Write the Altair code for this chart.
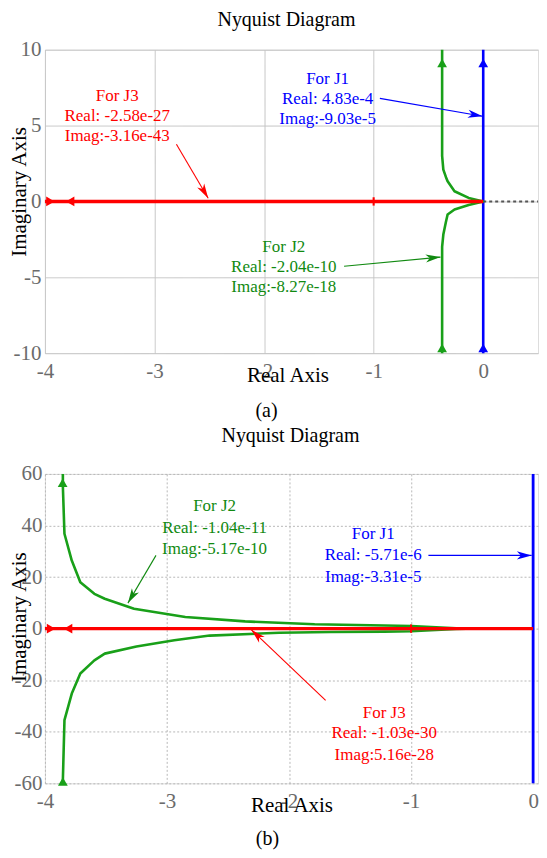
import math
import altair as alt
import pandas as pd

FONT = "Liberation Serif"
RED = "#ff0000"
GREEN = "#19a019"
BLUE = "#0000ff"
TEXT_GREEN = "#118a11"
PALETTE = {"J1": BLUE, "J2": GREEN, "J3": RED}
TEXT_PALETTE = {"J1": BLUE, "J2": TEXT_GREEN, "J3": RED}
ARROW_PATH = "M0,0L0.55,2L0,1.45L-0.55,2Z"

# ---------------- panel (a) data ----------------
A_X_DOMAIN = [-4, 0.5]
A_Y_DOMAIN = [-10, 10]
A_X_TICKS = [-4, -3, -2, -1, 0]
A_Y_TICKS = [-10, -5, 0, 5, 10]

a_j1_re = [0.0, 0.0]
a_j1_im = [-10.5, 10.5]

a_j2_re = [-0.375, -0.375, -0.364, -0.34, -0.325, -0.262, -0.133, 0.0,
           -0.133, -0.262, -0.325, -0.342, -0.364, -0.375, -0.375]
a_j2_im = [10.5, 3.0, 2.1, 1.6, 1.33, 0.67, 0.23, 0.0,
           -0.23, -0.53, -0.86, -1.41, -2.18, -3.0, -10.5]

a_j3_re = [-4.05, -1.0, 0.0]
a_j3_im = [0.0, 0.0, 0.0]

a_pos_re = [0.0, 0.5]
a_pos_im = [0.0, 0.0]

a_dir_re = [-0.375, -0.375, 0.0, 0.0, -3.95, -3.77]
a_dir_im = [9.13, -9.66, 9.13, -9.66, 0.0, 0.0]
a_dir_shape = ["triangle-up", "triangle-up", "triangle-up", "triangle-up",
               "triangle-right", "triangle-left"]
a_dir_series = ["J2", "J2", "J1", "J1", "J3", "J3"]

a_note_text = ["For J3", "Real: -2.58e-27", "Imag:-3.16e-43",
               "For J1", "Real: 4.83e-4", "Imag:-9.03e-5",
               "For J2", "Real: -2.04e-10", "Imag:-8.27e-18"]
a_note_re = [-3.34, -3.34, -3.34, -1.42, -1.42, -1.42, -1.82, -1.82, -1.82]
a_note_im = [6.93, 5.61, 4.29, 8.04, 6.73, 5.41, -3.02, -4.33, -5.65]
a_note_series = ["J3"] * 3 + ["J1"] * 3 + ["J2"] * 3

a_arrow_series = ["J3", "J1", "J2"]
a_arrow_from_re = [-2.80, -0.943, -1.27]
a_arrow_from_im = [3.77, 6.79, -4.27]
a_arrow_to_re = [-2.51, -0.005, -0.39]
a_arrow_to_im = [0.21, 5.61, -3.67]

# ---------------- panel (b) data ----------------
B_X_DOMAIN = [-4, 0.04]
B_Y_DOMAIN = [-60, 60]
B_X_TICKS = [-4, -3, -2, -1, 0]
B_Y_TICKS = [-60, -40, -20, 0, 20, 40, 60]

b_j1_re = [0.0, 0.0]
b_j1_im = [-63.0, 63.0]

b_j2_re = [-3.853, -3.853, -3.84, -3.78, -3.71, -3.595, -3.51, -3.27, -2.85,
           -2.36, -1.79, -1.22, -1.0, -0.63, -0.55,
           -0.63, -1.0, -1.22, -1.66, -2.08, -2.65, -2.94, -3.25, -3.51,
           -3.595, -3.71, -3.78, -3.84, -3.853, -3.853]
b_j2_im = [63.0, 55.0, 36.8, 26.4, 18.0, 13.5, 11.6, 7.7, 4.5,
           2.8, 1.7, 1.2, 1.0, 0.15, 0.0,
           -0.15, -1.0, -1.15, -1.3, -1.6, -2.7, -4.5, -6.9, -9.7,
           -12.3, -17.4, -25.2, -35.5, -58.7, -63.0]

b_j3_re = [-4.05, -1.0, 0.0]
b_j3_im = [0.0, 0.0, 0.0]

b_dir_re = [-3.855, -3.853, -3.95, -3.81]
b_dir_im = [56.6, -59.3, 0.0, 0.0]
b_dir_shape = ["triangle-up", "triangle-up", "triangle-right", "triangle-left"]
b_dir_series = ["J2", "J2", "J3", "J3"]

b_note_text = ["For J2", "Real: -1.04e-11", "Imag:-5.17e-10",
               "For J1", "Real: -5.71e-6", "Imag:-3.31e-5",
               "For J3", "Real: -1.03e-30", "Imag:5.16e-28"]
b_note_re = [-2.61, -2.61, -2.61, -1.31, -1.31, -1.31, -1.22, -1.22, -1.22]
b_note_im = [47.7, 39.2, 30.7, 36.8, 28.4, 20.0, -32.9, -40.6, -49.0]
b_note_series = ["J2"] * 3 + ["J1"] * 3 + ["J3"] * 3

b_arrow_series = ["J2", "J1", "J3"]
b_arrow_from_re = [-3.09, -0.858, -1.70]
b_arrow_from_im = [28.4, 28.4, -27.8]
b_arrow_to_re = [-3.32, -0.012, -2.31]
b_arrow_to_im = [9.9, 28.4, -0.4]

CRIT_RE = [-1.0]
CRIT_IM = [0.0]


def path_df(re, im, series):
    return pd.DataFrame({"re": re, "im": im, "i": list(range(len(re))),
                         "color": PALETTE[series]})


def build_panel(cfg):
    W, H = cfg["W"], cfg["H"]
    xd, yd = cfg["xdom"], cfg["ydom"]
    xs = alt.Scale(domain=xd, nice=False, zero=False)
    ys = alt.Scale(domain=yd, nice=False, zero=False)
    common = dict(grid=True, gridColor=cfg["gridColor"], gridWidth=1,
                  gridDash=cfg["gridDash"], domain=False, ticks=False, tickSize=0,
                  labelFont=FONT, labelFontSize=21, labelColor="#6b6b6b",
                  labelFlush=False, labelOverlap=False,
                  labelExpr="'' + datum.value",
                  titleFont=FONT, titleFontSize=21, titleFontWeight="normal",
                  titleColor="black")
    xaxis = alt.Axis(values=cfg["xticks"], labelPadding=cfg["xLabelPad"],
                     title="Real Axis", titleX=cfg["xTitleX"], titleY=cfg["xTitleY"],
                     titleBaseline="middle", titleAlign="center", **common)
    yaxis = alt.Axis(values=cfg["yticks"], labelPadding=cfg["yLabelPad"],
                     title="Imaginary Axis", titleX=cfg["yTitleX"], titleY=cfg["yTitleY"],
                     titleAngle=270, titleBaseline="alphabetic", titleAlign="center",
                     **common)
    X = alt.X("re:Q", scale=xs, axis=xaxis)
    Y = alt.Y("im:Q", scale=ys, axis=yaxis)
    C = alt.Color("color:N", scale=None)

    layers = []
    if cfg.get("pos_re"):
        dfp = pd.DataFrame({"re": cfg["pos_re"], "im": cfg["pos_im"], "i": [0, 1],
                            "color": "#555555"})
        layers.append(alt.Chart(dfp).mark_line(clip=True, strokeWidth=2,
                                               strokeDash=[3, 3]).encode(
            x=X, y=Y, order="i:Q", color=C))
    for key, series, w in cfg["paths"]:
        re, im = key
        layers.append(alt.Chart(path_df(re, im, series)).mark_line(
            clip=True, strokeWidth=w, strokeJoin="round").encode(
            x=X, y=Y, order="i:Q", color=C))

    # critical point marker
    dfc = pd.DataFrame({"re": CRIT_RE, "im": CRIT_IM, "color": RED})
    layers.append(alt.Chart(dfc).mark_point(shape="M-0.25,-1H0.25V1H-0.25Z", filled=True,
                                            size=70, opacity=1).encode(
        x=X, y=Y, color=C))

    # direction markers
    dfd = pd.DataFrame({"re": cfg["dir_re"], "im": cfg["dir_im"], "shape": cfg["dir_shape"],
                        "color": [PALETTE[s] for s in cfg["dir_series"]]})
    layers.append(alt.Chart(dfd).mark_point(filled=True, size=95, opacity=1).encode(
        x=X, y=Y, color=C, shape=alt.Shape("shape:N", scale=None)))

    # annotation arrows
    sx = W / (xd[1] - xd[0])
    sy = H / (yd[1] - yd[0])
    rows, heads = [], []
    for k, s in enumerate(cfg["ar_series"]):
        x1, y1 = cfg["ar_from_re"][k], cfg["ar_from_im"][k]
        x2, y2 = cfg["ar_to_re"][k], cfg["ar_to_im"][k]
        col = TEXT_PALETTE[s]
        rows.append({"re": x1, "im": y1, "seg": k, "i": 0, "color": col})
        rows.append({"re": x2, "im": y2, "seg": k, "i": 1, "color": col})
        ang = math.degrees(math.atan2((x2 - x1) * sx, (y2 - y1) * sy)) % 360
        heads.append({"re": x2, "im": y2, "angle": ang, "color": col})
    layers.append(alt.Chart(pd.DataFrame(rows)).mark_line(strokeWidth=1.1).encode(
        x=X, y=Y, detail="seg:N", order="i:Q", color=C))
    layers.append(alt.Chart(pd.DataFrame(heads)).mark_point(
        shape=ARROW_PATH, filled=True, size=220, opacity=1).encode(
        x=X, y=Y, color=C, angle=alt.Angle("angle:Q", scale=None)))

    # annotation texts
    dfn = pd.DataFrame({"re": cfg["note_re"], "im": cfg["note_im"], "t": cfg["note_text"],
                        "color": [TEXT_PALETTE[s] for s in cfg["note_series"]]})
    layers.append(alt.Chart(dfn).mark_text(font=FONT, fontSize=17, align="center",
                                           baseline="middle").encode(
        x=X, y=Y, text="t:N", color=C))

    # panel title and caption
    layers.append(alt.Chart(pd.DataFrame({"t": ["Nyquist Diagram"]})).mark_text(
        font=FONT, fontSize=20, align="center", baseline="alphabetic", color="black").encode(
        text="t:N", x=alt.value(cfg["titleX"]), y=alt.value(cfg["titleY"])))
    layers.append(alt.Chart(pd.DataFrame({"t": [cfg["caption"]]})).mark_text(
        font=FONT, fontSize=20, align="center", baseline="middle", color="black").encode(
        text="t:N", x=alt.value(cfg["capX"]), y=alt.value(cfg["capY"])))

    return alt.layer(*layers).properties(width=W, height=H)


panel_a = build_panel(dict(
    W=494, H=304, xdom=A_X_DOMAIN, ydom=A_Y_DOMAIN, xticks=A_X_TICKS, yticks=A_Y_TICKS,
    gridColor="#c4c4c4", gridDash=[1, 0], xLabelPad=7, yLabelPad=4,
    xTitleX=243, xTitleY=22, yTitleX=-19, yTitleY=142,
    pos_re=a_pos_re, pos_im=a_pos_im,
    paths=[((a_j1_re, a_j1_im), "J1", 2.6), ((a_j2_re, a_j2_im), "J2", 2.6),
           ((a_j3_re, a_j3_im), "J3", 3.6)],
    dir_re=a_dir_re, dir_im=a_dir_im, dir_shape=a_dir_shape, dir_series=a_dir_series,
    ar_series=a_arrow_series, ar_from_re=a_arrow_from_re, ar_from_im=a_arrow_from_im,
    ar_to_re=a_arrow_to_re, ar_to_im=a_arrow_to_im,
    note_re=a_note_re, note_im=a_note_im, note_text=a_note_text, note_series=a_note_series,
    titleX=242, titleY=-24, caption="(a)", capX=222, capY=362,
))

panel_b = build_panel(dict(
    W=494, H=310, xdom=B_X_DOMAIN, ydom=B_Y_DOMAIN, xticks=B_X_TICKS, yticks=B_Y_TICKS,
    gridColor="#b8b8b8", gridDash=[2, 2], xLabelPad=7, yLabelPad=3,
    xTitleX=247, xTitleY=22, yTitleX=-19, yTitleY=143,
    pos_re=None, pos_im=None,
    paths=[((b_j2_re, b_j2_im), "J2", 2.6), ((b_j1_re, b_j1_im), "J1", 2.8),
           ((b_j3_re, b_j3_im), "J3", 3.2)],
    dir_re=b_dir_re, dir_im=b_dir_im, dir_shape=b_dir_shape, dir_series=b_dir_series,
    ar_series=b_arrow_series, ar_from_re=b_arrow_from_re, ar_from_im=b_arrow_from_im,
    ar_to_re=b_arrow_to_re, ar_to_im=b_arrow_to_im,
    note_re=b_note_re, note_im=b_note_im, note_text=b_note_text, note_series=b_note_series,
    titleX=246, titleY=-32, caption="(b)", capX=223, capY=366,
))

chart = alt.vconcat(panel_a, panel_b, spacing=121, bounds="flush").properties(
    padding={"left": 0, "top": 0, "right": 0, "bottom": 0}
).configure_view(stroke="#666666", strokeWidth=3).configure_axis(
    labelFont=FONT, titleFont=FONT
).configure_text(font=FONT).configure(background="white")

chart.save("out.html", embed_options={"renderer": "svg", "actions": False})
